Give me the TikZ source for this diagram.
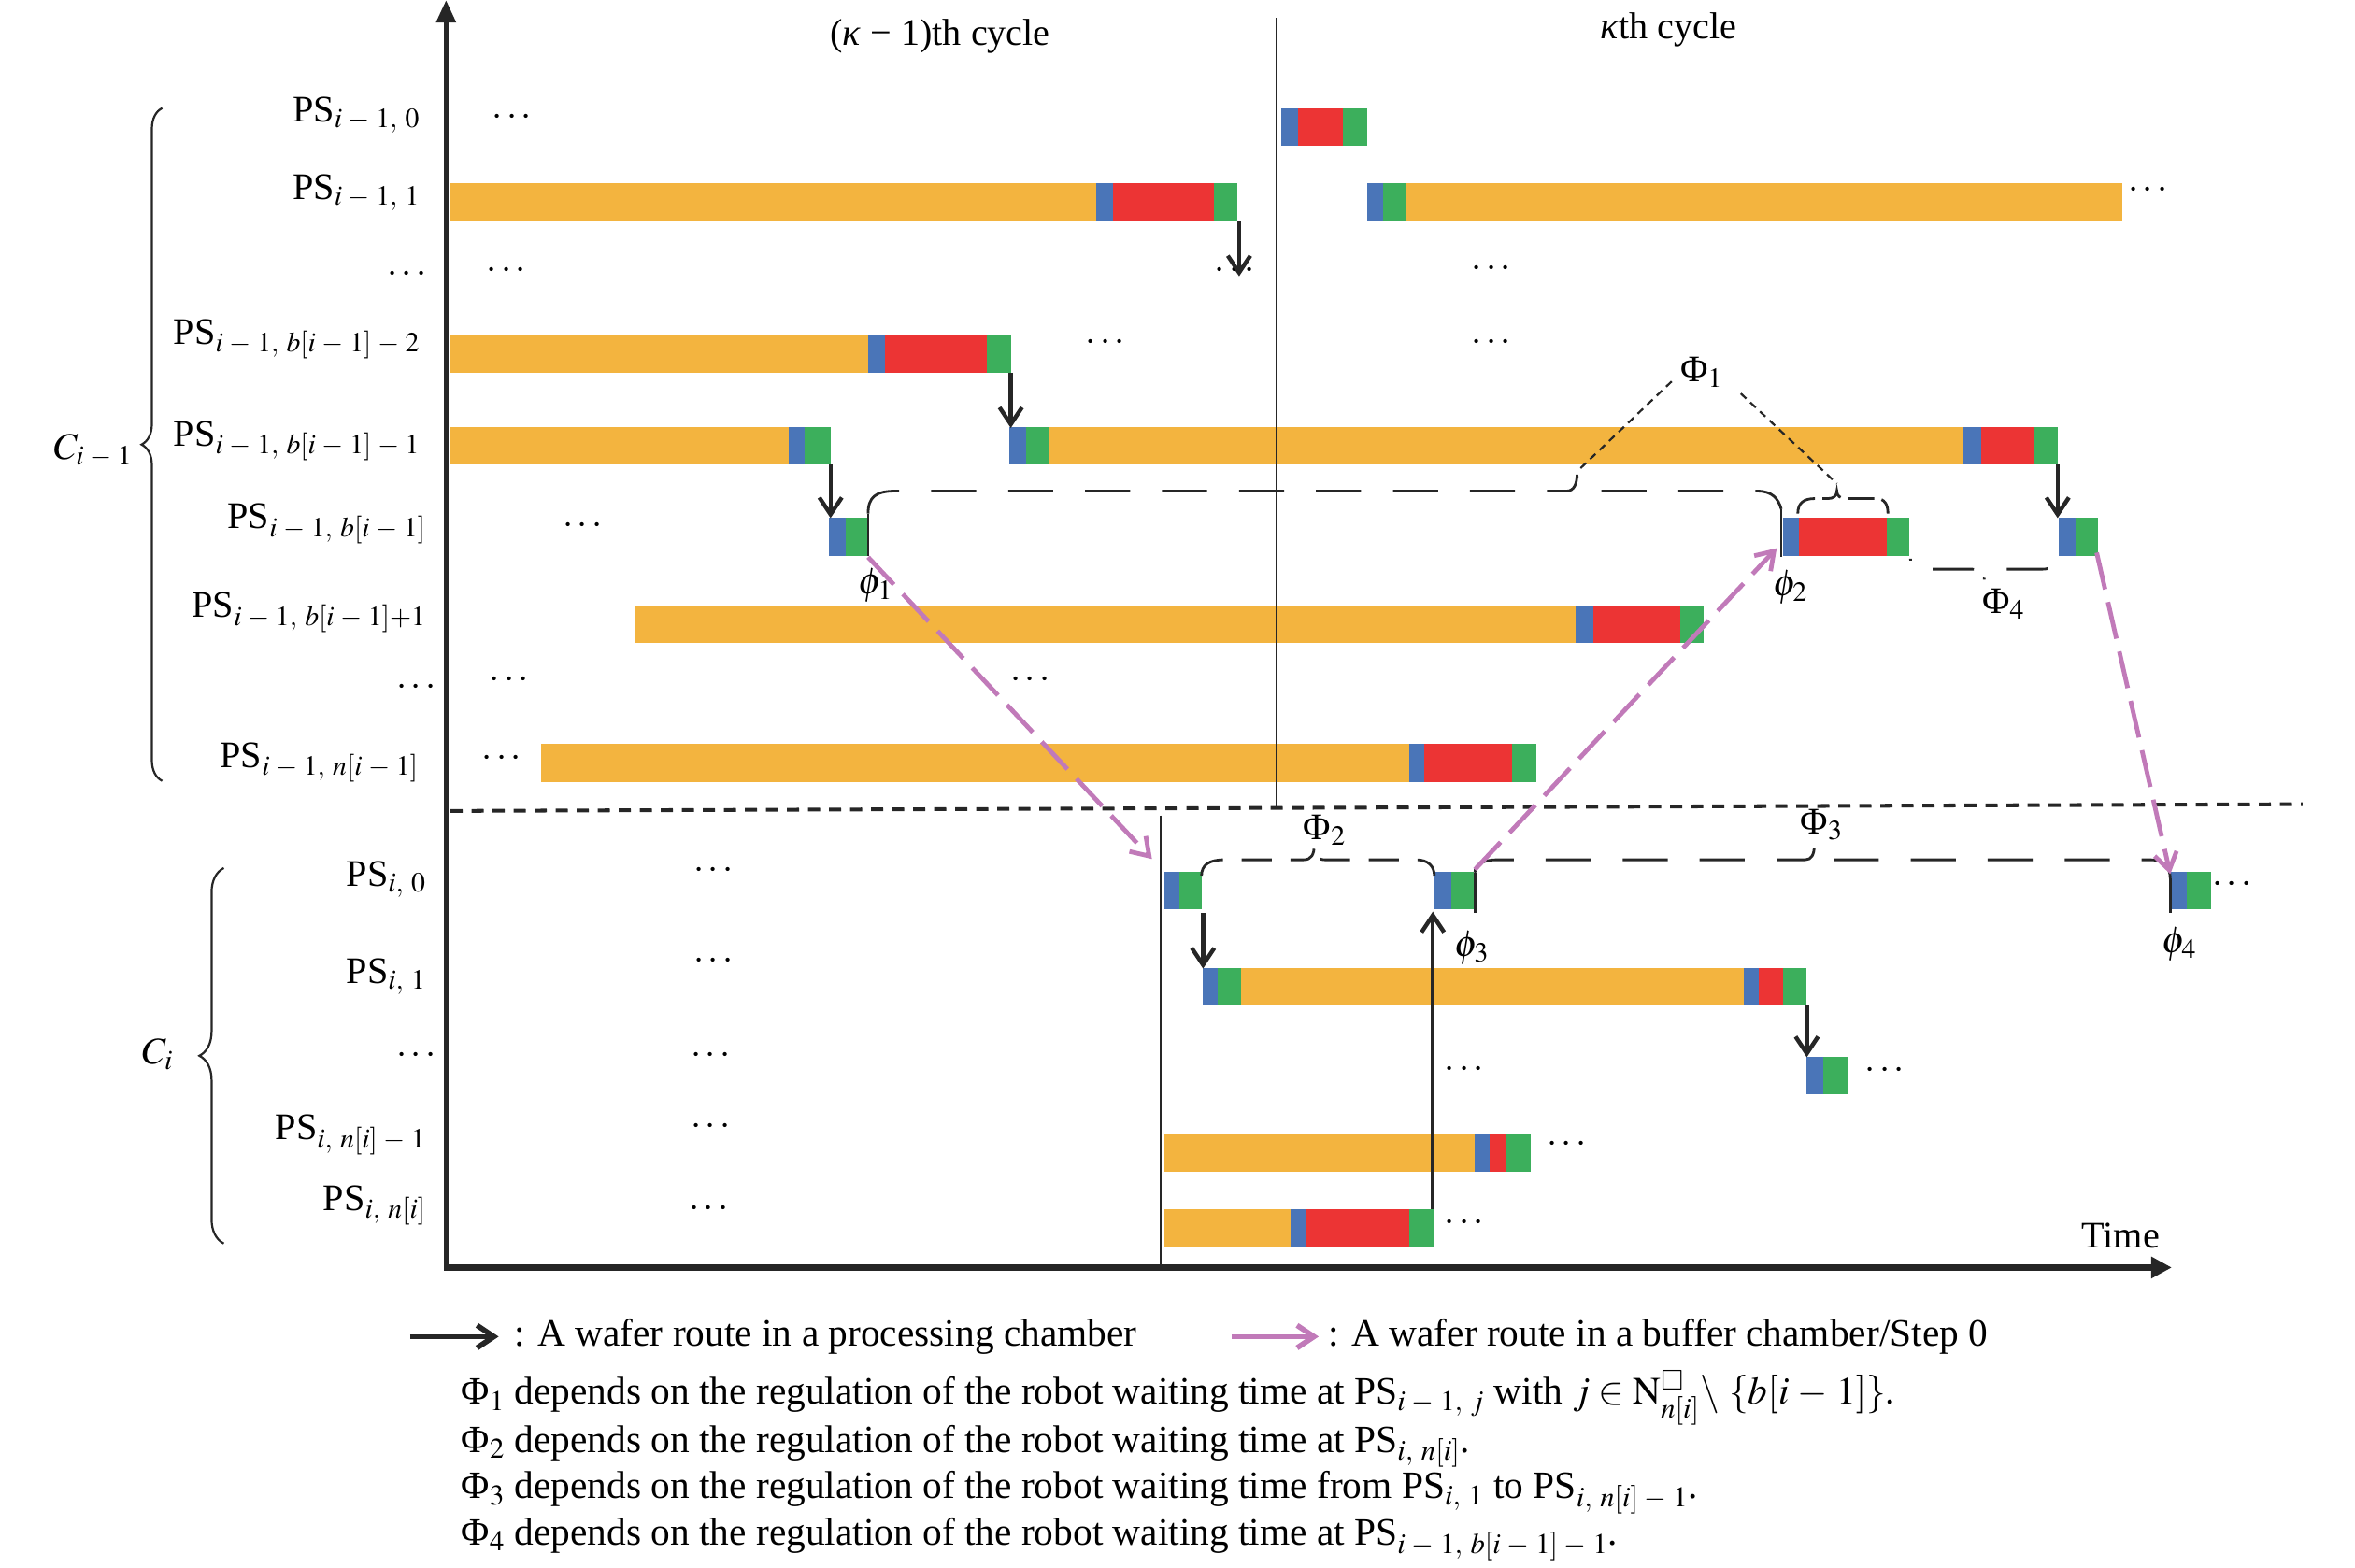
\documentclass[tikz,border=0pt]{standalone}
\usepackage{mathptmx}
\usepackage{amssymb}
\usepackage[no-math]{fontspec}
\setmainfont{Liberation Serif}
\usetikzlibrary{arrows.meta,decorations.pathreplacing}
\definecolor{barO}{RGB}{243,180,63}
\definecolor{barB}{RGB}{74,117,184}
\definecolor{barR}{RGB}{236,52,52}
\definecolor{barG}{RGB}{60,175,92}
\definecolor{pinkc}{RGB}{193,122,185}
\newcommand{\sg}[4]{\fill[#1] (#2,#4-12.5) rectangle (#3,#4+12.5);}
\newcommand{\mn}{\mskip4mu{-}\mskip4mu}
\newcommand{\cm}{,\mskip5mu}
\tikzset{
  axisline/.style={line width=2.8pt, draw=black!85},
  proc/.style={line width=2.2pt, draw=black!85, -{Straight Barb[length=9pt,width=12pt]}},
  buf/.style={line width=2.4pt, draw=pinkc, dash pattern=on 20pt off 7pt, -{Straight Barb[length=9pt,width=12pt]}},
  thinv/.style={line width=1.1pt, draw=black!85},
  tickl/.style={line width=1.3pt, draw=black!85},
  gbrace/.style={line width=1.4pt, draw=black!85, dash pattern=on 24pt off 17pt},
  sepline/.style={line width=2pt, draw=black!85, dash pattern=on 6.4pt off 4.8pt},
  dotl/.style={line width=1.1pt, draw=black!85, dash pattern=on 4pt off 3pt},
  cbrace/.style={line width=1.1pt, draw=black!85, decorate, decoration={brace, amplitude=#1}},
  lbl/.style={anchor=base east, inner sep=0pt},
  dts/.style={inner sep=0pt},
  txt/.style={anchor=west, inner sep=0pt, font=\fontsize{20.6}{24}\selectfont},
}
\begin{document}
\begin{tikzpicture}[x=0.8pt,y=-0.8pt,font=\fontsize{20}{24}\selectfont]
\useasboundingbox (0,0) rectangle (1568,1044);

% ---------- bars ----------
% r0
\sg{barB}{853}{864}{84.5}\sg{barR}{864}{894}{84.5}\sg{barG}{894}{910}{84.5}
% r1
\sg{barO}{300}{730}{134.5}\sg{barB}{730}{741}{134.5}\sg{barR}{741}{808}{134.5}\sg{barG}{808}{824}{134.5}
\sg{barB}{910}{921}{134.5}\sg{barG}{921}{936}{134.5}\sg{barO}{936}{1413}{134.5}
% r3
\sg{barO}{300}{578}{236}\sg{barB}{578}{589}{236}\sg{barR}{589}{657}{236}\sg{barG}{657}{673}{236}
% r4
\sg{barO}{300}{525}{297}\sg{barB}{525}{536}{297}\sg{barG}{536}{553}{297}
\sg{barB}{672}{683}{297}\sg{barG}{683}{699}{297}\sg{barO}{699}{1307}{297}\sg{barB}{1307}{1319}{297}\sg{barR}{1319}{1354}{297}\sg{barG}{1354}{1370}{297}
% r5
\sg{barB}{552}{563}{357.5}\sg{barG}{563}{578}{357.5}
\sg{barB}{1187}{1198}{357.5}\sg{barR}{1198}{1256}{357.5}\sg{barG}{1256}{1271}{357.5}
\sg{barB}{1371}{1382}{357.5}\sg{barG}{1382}{1397}{357.5}
% r6
\sg{barO}{423}{1049}{415.5}\sg{barB}{1049}{1061}{415.5}\sg{barR}{1061}{1119}{415.5}\sg{barG}{1119}{1134}{415.5}
% r8
\sg{barO}{360}{938}{508}\sg{barB}{938}{948}{508}\sg{barR}{948}{1007}{508}\sg{barG}{1007}{1023}{508}
% q0
\sg{barB}{775}{785}{593}\sg{barG}{785}{800}{593}
\sg{barB}{955}{966}{593}\sg{barG}{966}{981}{593}
\sg{barB}{1445}{1456}{593}\sg{barG}{1456}{1472}{593}
% q1
\sg{barB}{801}{811}{657}\sg{barG}{811}{826}{657}\sg{barO}{826}{1161}{657}\sg{barB}{1161}{1171}{657}\sg{barR}{1171}{1187}{657}\sg{barG}{1187}{1203}{657}
% q2
\sg{barB}{1203}{1214}{716}\sg{barG}{1214}{1230}{716}
% q3
\sg{barO}{775}{982}{768}\sg{barB}{982}{992}{768}\sg{barR}{992}{1003}{768}\sg{barG}{1003}{1019}{768}
% q4
\sg{barO}{775}{859}{817.5}\sg{barB}{859}{870}{817.5}\sg{barR}{870}{938}{817.5}\sg{barG}{938}{955}{817.5}

% ---------- axes and guide lines ----------
\coordinate (O) at (297,844);
\coordinate (Ytop) at (297,0);
\coordinate (Xend) at (1446,844);
\draw[axisline, -{Triangle[length=12pt,width=10pt]}] (O) -- (Ytop);
\draw[axisline, line width=3.2pt, -{Triangle[length=11pt,width=11pt]}] ([xshift=-1.1pt]O) -- (Xend);
\coordinate (v1a) at (850,12); \coordinate (v1b) at (850,537);
\draw[thinv] (v1a) -- (v1b);
\coordinate (v2a) at (773,543); \coordinate (v2b) at (773,844);
\draw[thinv] (v2a) -- (v2b);
\coordinate (sa) at (300,540); \coordinate (sb) at (1533,535.5);
\draw[sepline] (sa) -- (sb);

% ---------- cycle labels ----------
\node (hk1) at (626,24) {(\textit{κ} − 1)th cycle};
\node (hk) at (1111,20) {\textit{κ}th cycle};
\node (time) at (1412,823) {Time};

% ---------- row labels ----------
\node[lbl] (L0) at (280,81) {PS$_{i\mn1\cm0}$};
\node[lbl] (L1) at (280,133) {PS$_{i\mn1\cm1}$};
\node[dts] (L2) at (271,183) {$\cdots$};
\node[lbl] (L3) at (280,229) {PS$_{i\mn1\cm b[i\mn1]\mn2}$};
\node[lbl] (L4) at (280,297) {PS$_{i\mn1\cm b[i\mn1]\mn1}$};
\node[lbl] (L5) at (284,352) {PS$_{i\mn1\cm b[i\mn1]}$};
\node[lbl] (L6) at (284,411) {PS$_{i\mn1\cm b[i\mn1]+1}$};
\node[dts] (L7) at (277,458) {$\cdots$};
\node[lbl] (L8) at (279,511) {PS$_{i\mn1\cm n[i\mn1]}$};
\node[lbl] (M0) at (284,590) {PS$_{i\cm0}$};
\node[lbl] (M1) at (284,655) {PS$_{i\cm1}$};
\node[dts] (M2) at (277,703) {$\cdots$};
\node[lbl] (M3) at (284,759) {PS$_{i\cm n[i]\mn1}$};
\node[lbl] (M4) at (284,806) {PS$_{i\cm n[i]}$};

% group braces
\coordinate (cb1a) at (108,520); \coordinate (cb1b) at (108,72);
\draw[cbrace=11pt] (cb1a) -- (cb1b);
\node (C1) at (62,300) {$C_{i\mn1}$};
\coordinate (cb2a) at (149,828); \coordinate (cb2b) at (149,578);
\draw[cbrace=13pt] (cb2a) -- (cb2b);
\node (C2) at (105,702) {$C_i$};

% ---------- ellipses ----------
\node[dts] (e1) at (341,78) {$\cdots$};
\node[dts] (e2) at (337,180) {$\cdots$};
\node[dts] (e3) at (822,180) {$\cdots$};
\node[dts] (e4) at (993,179) {$\cdots$};
\node[dts] (e5) at (1430,127) {$\cdots$};
\node[dts] (e6) at (736,228) {$\cdots$};
\node[dts] (e7) at (993,228) {$\cdots$};
\node[dts] (e8) at (388,350) {$\cdots$};
\node[dts] (e9) at (339,453) {$\cdots$};
\node[dts] (e10) at (686,453) {$\cdots$};
\node[dts] (e11) at (334,505) {$\cdots$};
\node[dts] (e12) at (475,580) {$\cdots$};
\node[dts] (e13) at (1486,589) {$\cdots$};
\node[dts] (e14) at (475,640) {$\cdots$};
\node[dts] (e15) at (473,703) {$\cdots$};
\node[dts] (e16) at (975,712) {$\cdots$};
\node[dts] (e17) at (1255,713) {$\cdots$};
\node[dts] (e18) at (473,750) {$\cdots$};
\node[dts] (e19) at (1043,762) {$\cdots$};
\node[dts] (e20) at (472,805) {$\cdots$};
\node[dts] (e21) at (975,814) {$\cdots$};

% ---------- phi ticks and labels ----------
\coordinate (p1a) at (578,342); \coordinate (p1b) at (578,370);
\draw[tickl] (p1a) -- (p1b);
\coordinate (p2a) at (1186,339); \coordinate (p2b) at (1186,371);
\draw[tickl] (p2a) -- (p2b);
\coordinate (p3a) at (982,581); \coordinate (p3b) at (982,608);
\draw[tickl] (p3a) -- (p3b);
\coordinate (p4a) at (1445,585); \coordinate (p4b) at (1445,608);
\draw[tickl] (p4a) -- (p4b);
\node[inner sep=1pt] (phi1) at (583,390) {$\phi_1$};
\node[inner sep=1pt] (phi2) at (1192,391) {$\phi_2$};
\node[inner sep=1pt] (phi3) at (980,631) {$\phi_3$};
\node[inner sep=1pt] (phi4) at (1451,629) {$\phi_4$};

% ---------- waiting-time braces ----------
\draw[gbrace] (p1a) .. controls (578,331) and (583,327) .. (596,327) -- (1043,327)
  .. controls (1048,327) and (1050,322) .. (1050,316)
  .. controls (1050,322) and (1052,327) .. (1058,327) -- (1170,327)
  .. controls (1180,327) and (1184,332) .. (p2a);
\draw[gbrace, dash pattern=on 14pt off 4pt] (1197,342) .. controls (1197,335) and (1201,332) .. (1208,332) -- (1217,332)
  .. controls (1221,332) and (1223,330) .. (1223,327)
  .. controls (1223,330) and (1225,332) .. (1229,332) -- (1249,332)
  .. controls (1255,332) and (1257,336) .. (1257,342);
\draw[gbrace, dash pattern=on 1pt off 14pt on 22pt off 10pt] (1272,372) .. controls (1272,377) and (1275,379) .. (1282,379) -- (1313,379)
  .. controls (1318,379) and (1321,382) .. (1321,387)
  .. controls (1321,382) and (1324,379) .. (1330,379) -- (1360,379)
  .. controls (1366,379) and (1368,376) .. (1368,372);
\draw[gbrace, dash pattern=on 16pt off 10pt] (800,583) .. controls (800,576) and (805,572.5) .. (815,572.5) -- (868,572.5)
  .. controls (873,572.5) and (875,569) .. (875,563)
  .. controls (875,569) and (877,572.5) .. (882,572.5) -- (943,572.5)
  .. controls (951,572.5) and (955,577) .. (955,583);
\draw[gbrace] (p3a) .. controls (982,576) and (987,572.5) .. (997,572.5) -- (1202,572.5)
  .. controls (1206,572.5) and (1208,569) .. (1208,563)
  .. controls (1208,569) and (1210,572.5) .. (1214,572.5) -- (1432,572.5)
  .. controls (1440,572.5) and (1445,577) .. (p4a);
\node (Phi1) at (1133,248) {Φ$_1$};
\node (Phi2) at (882,553) {Φ$_2$};
\node (Phi3) at (1213,549) {Φ$_3$};
\node (Phi4) at (1334,402) {Φ$_4$};
\coordinate (d1a) at (1113,254); \coordinate (d1b) at (1050,314);
\coordinate (d2a) at (1159,262); \coordinate (d2b) at (1223,322);
\draw[dotl] (d1a) -- (d1b);
\draw[dotl] (d2a) -- (d2b);

% ---------- processing-chamber routes ----------
\coordinate (a1s) at (825,147); \coordinate (a1e) at (825,184);
\coordinate (a2s) at (673,248.5); \coordinate (a2e) at (673,285);
\coordinate (a3s) at (553,309.5); \coordinate (a3e) at (553,345);
\coordinate (a4s) at (1370,309.5); \coordinate (a4e) at (1370,345);
\coordinate (a5s) at (801,608); \coordinate (a5e) at (801,645);
\coordinate (a6s) at (1203,669.5); \coordinate (a6e) at (1203,704);
\coordinate (a7s) at (954,805); \coordinate (a7e) at (954,607);
\foreach \k in {1,...,7} {\draw[proc] (a\k s) -- (a\k e);}

% ---------- buffer-chamber routes ----------
\coordinate (b1s) at (578,371); \coordinate (b1e) at (767,572);
\coordinate (b2s) at (982,579); \coordinate (b2e) at (1183,365);
\coordinate (b3s) at (1396,368); \coordinate (b3e) at (1445,582);
\draw[buf] (b1s) -- (b1e);
\draw[buf] (b2s) -- (b2e);
\draw[buf] (b3s) -- (b3e);

% ---------- legend ----------
\coordinate (lg1s) at (273,890); \coordinate (lg1e) at (332,890);
\draw[proc, line width=2.8pt] (lg1s) -- (lg1e);
\node[txt] (lt1) at (342,890) {: A wafer route in a processing chamber};
\coordinate (lg2s) at (820,890); \coordinate (lg2e) at (878,890);
\draw[proc, draw=pinkc, line width=2.8pt] (lg2s) -- (lg2e);
\node[txt] (lt2) at (884,890) {: A wafer route in a buffer chamber/Step 0};
\node[txt] (n1) at (307,931) {Φ$_1$ depends on the regulation of the robot waiting time at PS$_{i\mn1\cm j}$ with $j\in\mathrm{N}^{\square}_{n[i]}\backslash\ \{b[i\mn1]\}$.};
\node[txt] (n2) at (307,963) {Φ$_2$ depends on the regulation of the robot waiting time at PS$_{i\cm n[i]}$.};
\node[txt] (n3) at (307,994) {Φ$_3$ depends on the regulation of the robot waiting time from PS$_{i\cm1}$ to PS$_{i\cm n[i]\mn1}$.};
\node[txt] (n4) at (307,1025) {Φ$_4$ depends on the regulation of the robot waiting time at PS$_{i\mn1\cm b[i\mn1]\mn1}$.};
\end{tikzpicture}
\end{document}
